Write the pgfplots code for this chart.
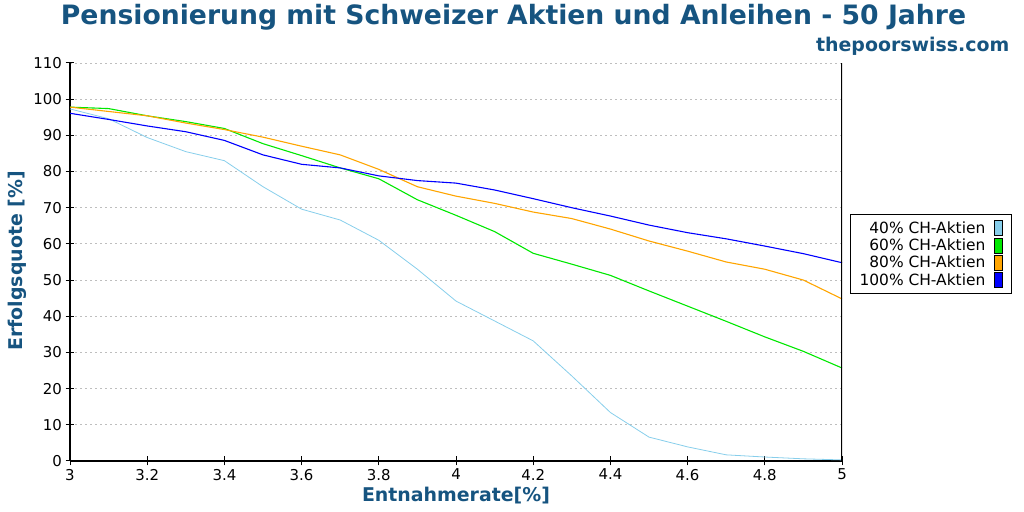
\documentclass[border=0pt]{standalone}
\usepackage{fontspec}
\setmainfont{DejaVu Sans}
\usepackage{pgfplots}
\pgfplotsset{compat=1.18}

\definecolor{titleblue}{RGB}{22,84,128}
\definecolor{c40}{RGB}{135,206,235}
\definecolor{c60}{RGB}{0,232,0}
\definecolor{c80}{RGB}{255,165,0}
\definecolor{c100}{RGB}{0,0,255}
\definecolor{gridgray}{RGB}{190,190,190}

% Success rate (%) by withdrawal rate (%) for each stock share
\pgfplotstableread{
rate  s40   s60   s80   s100
3.0   97.3  97.8  97.8  96.1
3.1   94.6  97.4  96.6  94.4
3.2   89.4  95.4  95.4  92.6
3.3   85.5  93.8  93.4  91.0
3.4   83.0  91.9  91.6  88.6
3.5   75.8  87.7  89.5  84.6
3.6   69.6  84.4  87.0  82.0
3.7   66.6  81.0  84.6  81.0
3.8   61.0  78.0  80.6  78.8
3.9   53.0  72.2  75.8  77.5
4.0   44.2  67.9  73.2  76.8
4.1   38.7  63.4  71.2  74.9
4.2   33.2  57.4  68.8  72.5
4.3   23.5  54.4  67.0  70.0
4.4   13.4  51.3  64.1  67.7
4.5    6.6  47.0  60.8  65.2
4.6    3.9  42.8  58.0  63.1
4.7    1.7  38.6  55.0  61.4
4.8    1.1  34.3  53.0  59.4
4.9    0.6  30.3  50.0  57.3
5.0    0.3  25.7  44.8  54.8
}\success

\tikzset{
  legsq/.style={draw=black, line width=0.7bp, fill=#1},
}

\begin{document}
\begin{tikzpicture}[x=1bp,y=1bp]
\useasboundingbox (0,0) rectangle (1024,512);

\node[font=\bfseries\fontsize{26.75}{30}\selectfont, text=titleblue] at (513.5,494.5) {Pensionierung mit Schweizer Aktien und Anleihen - 50 Jahre};
\node[font=\bfseries\fontsize{19}{21}\selectfont, text=titleblue, anchor=base east, inner sep=0pt] at (1009.5,460.5) {thepoorswiss.com};

\begin{axis}[
  at={(70bp,51bp)}, anchor=south west,
  width=772bp, height=398bp, scale only axis,
  xmin=3, xmax=5, ymin=0, ymax=110,
  xtick={3,3.2,3.4,3.6,3.8,4,4.2,4.4,4.6,4.8,5},
  xticklabels={3,3.2,3.4,3.6,3.8,4,4.2,4.4,4.6,4.8,5},
  ytick={0,10,20,30,40,50,60,70,80,90,100,110},
  axis x line*=bottom, axis y line*=left,
  axis line style={black, line width=1.2bp},
  tick align=center, major tick length=9bp,
  tick style={black, line width=1bp},
  ticklabel style={font=\fontsize{15}{18}\selectfont},
  /pgf/number format/assume math mode=true,
  ymajorgrids,
  grid style={gridgray, dash pattern=on 2bp off 3bp, line width=0.9bp},
  xlabel={Entnahmerate[\%]},
  ylabel={Erfolgsquote [\%]},
  label style={font=\bfseries\fontsize{19}{21}\selectfont, text=titleblue},
  xlabel style={at={(axis description cs:0.5,-0.088)}, anchor=center},
  ylabel style={at={(axis description cs:-0.0687,0.5025)}, anchor=center, rotate=0},
  legend plot pos=right,
  legend cell align=right,
  legend style={at={(axis description cs:1.0104,0.6206)}, anchor=north west,
    draw=black, line width=1bp, font=\fontsize{15.5}{17}\selectfont,
    inner xsep=8bp, inner ysep=6bp, row sep=1.5bp,
    nodes={inner sep=1bp}, /tikz/column sep=8bp},
]
\addplot[c40, line width=0.8bp, legend image code/.code={\draw[legsq=c40] (0bp,-7.5bp) rectangle (8bp,7.5bp);}] table[x=rate, y=s40] {\success};
\addlegendentry{40\% CH-Aktien}
\addplot[c60, line width=1.1bp, legend image code/.code={\draw[legsq=c60] (0bp,-7.5bp) rectangle (8bp,7.5bp);}] table[x=rate, y=s60] {\success};
\addlegendentry{60\% CH-Aktien}
\addplot[c80, line width=1.1bp, legend image code/.code={\draw[legsq=c80] (0bp,-7.5bp) rectangle (8bp,7.5bp);}] table[x=rate, y=s80] {\success};
\addlegendentry{80\% CH-Aktien}
\addplot[c100, line width=1.1bp, legend image code/.code={\draw[legsq=c100] (0bp,-7.5bp) rectangle (8bp,7.5bp);}] table[x=rate, y=s100] {\success};
\addlegendentry{100\% CH-Aktien}
% right frame line
\draw[black, line width=1.2bp] (rel axis cs:1,0) -- (rel axis cs:1,1);
\end{axis}
\end{tikzpicture}
\end{document}
